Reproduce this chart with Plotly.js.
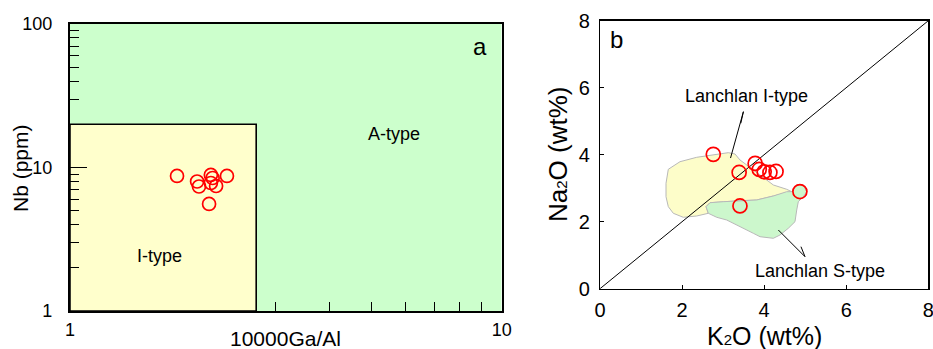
<!DOCTYPE html>
<html>
<head>
<meta charset="utf-8">
<script src="https://cdn.plot.ly/plotly-3.0.1.min.js"></script>
<style>html,body{margin:0;padding:0;background:#fff;}#chart{width:933px;height:349px;}</style>
</head>
<body>
<div id="chart"></div>
<script>
// ---------- Panel a: Nb vs 10000Ga/Al ----------
var gaAl = [1.77, 1.97, 1.99, 2.12, 2.14, 2.12, 2.18, 2.31, 2.10];
var nb   = [8.73, 7.99, 7.37, 8.87, 8.45, 7.80, 7.43, 8.73, 5.57];

// field boundaries (panel a)
var aTypeX = [1, 10, 10, 1, 1];
var aTypeY = [1, 1, 100, 100, 1];
var iTypeX = [1, 2.7, 2.7, 1, 1];
var iTypeY = [1, 1, 20, 20, 1];

var aXTicks = [1, 10];
var aXTickText = ['1', '10'];
var aXMinor = [3, 4, 5, 6, 7, 8, 9];
var aYTicks = [1, 10, 100];
var aYTickText = ['1', '10', '100'];
var aYMinor = [2, 3, 4, 5, 6, 7, 8, 9, 20, 30, 40, 50, 60, 70, 80, 90];

// ---------- Panel b: Na2O vs K2O ----------
var k2o  = [2.76, 3.39, 3.41, 3.78, 3.88, 4.00, 4.14, 4.29, 4.87];
var na2o = [4.01, 3.47, 2.47, 3.74, 3.56, 3.49, 3.47, 3.50, 2.90];

var lanIX = [1.664, 1.949, 2.356, 2.722, 3.126, 3.289, 3.411, 3.575, 3.899, 4.223, 4.549, 4.671,
             4.223, 3.818, 3.411, 3.004, 2.680, 2.583, 2.639, 2.356, 2.030, 1.786, 1.664, 1.608, 1.608, 1.664];
var lanIY = [3.564, 3.791, 3.922, 3.991, 4.060, 4.021, 3.842, 3.693, 3.394, 3.096, 2.967, 2.896,
             2.767, 2.648, 2.627, 2.597, 2.567, 2.448, 2.251, 2.170, 2.131, 2.251, 2.448, 2.746, 3.146, 3.564];
var lanSX = [4.671, 4.793, 4.954, 5.037, 4.954, 4.832, 4.793, 4.751, 4.588, 4.386, 4.223, 3.899, 3.735,
             3.411, 3.087, 2.844, 2.639, 2.583, 2.680, 3.004, 3.411, 3.818, 4.223, 4.549, 4.671];
var lanSY = [2.896, 3.096, 3.096, 2.896, 2.746, 2.597, 2.349, 2.000, 1.803, 1.603, 1.504, 1.552, 1.654,
             1.851, 2.051, 2.131, 2.251, 2.448, 2.567, 2.597, 2.627, 2.648, 2.767, 2.896, 2.896];

var diagX = [0, 8];
var diagY = [0, 8];

// leader lines for the field labels (tail -> tip, then barb)
var leadIX = [3.18, 3.494, 3.43];
var leadIY = [3.90, 5.284, 4.937];
var leadSX = [4.345, 4.995, 4.897];
var leadSY = [1.752, 0.955, 1.254];

var bTicks = [0, 2, 4, 6, 8];

var FONT = 'Liberation Sans, Arial, sans-serif';
var red = '#ff0000';

var traces = [
  {x: aTypeX, y: aTypeY, xaxis: 'x', yaxis: 'y', mode: 'lines', fill: 'toself',
   fillcolor: '#ccffcc', line: {width: 0, color: '#ccffcc'}, hoverinfo: 'skip', showlegend: false},
  {x: iTypeX, y: iTypeY, xaxis: 'x', yaxis: 'y', mode: 'lines', fill: 'toself',
   fillcolor: '#ffffcc', line: {width: 1.6, color: '#000'}, hoverinfo: 'skip', showlegend: false},
  {x: gaAl, y: nb, xaxis: 'x', yaxis: 'y', mode: 'markers', showlegend: false,
   marker: {symbol: 'circle-open', size: 13, color: red, line: {width: 1.7, color: red}}},

  {x: lanIX, y: lanIY, xaxis: 'x2', yaxis: 'y2', mode: 'lines', fill: 'toself',
   fillcolor: '#fdfdc9', line: {width: 1, color: '#b8b8b8'}, hoverinfo: 'skip', showlegend: false},
  {x: lanSX, y: lanSY, xaxis: 'x2', yaxis: 'y2', mode: 'lines', fill: 'toself',
   fillcolor: '#ccf7cc', line: {width: 1, color: '#b8b8b8'}, hoverinfo: 'skip', showlegend: false},
  {x: diagX, y: diagY, xaxis: 'x2', yaxis: 'y2', mode: 'lines',
   line: {width: 1, color: '#000'}, hoverinfo: 'skip', showlegend: false},
  {x: leadIX, y: leadIY, xaxis: 'x2', yaxis: 'y2', mode: 'lines',
   line: {width: 1, color: '#000'}, hoverinfo: 'skip', showlegend: false},
  {x: leadSX, y: leadSY, xaxis: 'x2', yaxis: 'y2', mode: 'lines',
   line: {width: 1, color: '#000'}, hoverinfo: 'skip', showlegend: false},
  {x: k2o, y: na2o, xaxis: 'x2', yaxis: 'y2', mode: 'markers', showlegend: false,
   marker: {symbol: 'circle-open', size: 14, color: red, line: {width: 1.7, color: red}}}
];

var layout = {
  width: 933, height: 349,
  margin: {l: 0, r: 0, t: 0, b: 0},
  paper_bgcolor: '#fff', plot_bgcolor: 'rgba(0,0,0,0)',
  font: {family: FONT, color: '#000'},
  showlegend: false,
  xaxis: {
    type: 'log', range: [0, 1], domain: [0.0750, 0.5377], anchor: 'y',
    tickmode: 'array', tickvals: aXTicks, ticktext: aXTickText,
    ticks: 'inside', ticklen: 17, tickcolor: '#000', tickwidth: 1,
    ticklabelstandoff: 1, ticklabeloverflow: 'allow',
    minor: {tickmode: 'array', tickvals: aXMinor, ticks: 'inside', ticklen: 9, tickcolor: '#000', tickwidth: 1, showgrid: false},
    showgrid: false, zeroline: false, showline: true, mirror: true, linecolor: '#000', linewidth: 2,
    tickfont: {size: 18, family: FONT, color: '#000'}, automargin: false, fixedrange: true
  },
  yaxis: {
    type: 'log', range: [0, 2], domain: [0.1089, 0.9312], anchor: 'x',
    tickmode: 'array', tickvals: aYTicks, ticktext: aYTickText,
    ticks: 'inside', ticklen: 17, tickcolor: '#000', tickwidth: 1,
    ticklabelstandoff: 12, ticklabeloverflow: 'allow',
    minor: {tickmode: 'array', tickvals: aYMinor, ticks: 'inside', ticklen: 9, tickcolor: '#000', tickwidth: 1, showgrid: false},
    showgrid: false, zeroline: false, showline: true, mirror: true, linecolor: '#000', linewidth: 2,
    tickfont: {size: 18, family: FONT, color: '#000'}, automargin: false, fixedrange: true
  },
  xaxis2: {
    range: [0, 8], domain: [0.6431, 0.9950], anchor: 'y2',
    tickmode: 'array', tickvals: bTicks,
    ticks: 'inside', ticklen: 4, tickcolor: '#000', tickwidth: 1,
    ticklabelstandoff: 3, ticklabeloverflow: 'allow',
    showgrid: false, zeroline: false, showline: true, mirror: true, linecolor: '#000', linewidth: 1.2,
    tickfont: {size: 20, family: FONT, color: '#000'}, automargin: false, fixedrange: true
  },
  yaxis2: {
    range: [0, 8], domain: [0.1728, 0.9407], anchor: 'x2',
    tickmode: 'array', tickvals: bTicks,
    ticks: 'inside', ticklen: 4, tickcolor: '#000', tickwidth: 1,
    ticklabelstandoff: 5, ticklabeloverflow: 'allow',
    showgrid: false, zeroline: false, showline: true, mirror: true, linecolor: '#000', linewidth: 1.2,
    tickfont: {size: 20, family: FONT, color: '#000'}, automargin: false, fixedrange: true
  },
  annotations: [
    // axis titles
    {xref: 'paper', yref: 'paper', x: 285.5 / 933, y: 1 - 338 / 349, text: '10000Ga/Al', showarrow: false,
     font: {size: 21, family: FONT, color: '#000'}, xanchor: 'center', yanchor: 'middle'},
    {xref: 'paper', yref: 'paper', x: 21 / 933, y: 1 - 168 / 349, text: 'Nb (ppm)', showarrow: false, textangle: -90,
     font: {size: 21, family: FONT, color: '#000'}, xanchor: 'center', yanchor: 'middle'},
    {xref: 'paper', yref: 'paper', x: 764 / 933, y: 1 - 336 / 349, text: 'K<span style="font-size:15px">2</span>O (wt%)', showarrow: false,
     font: {size: 25, family: FONT, color: '#000'}, xanchor: 'center', yanchor: 'middle'},
    {xref: 'paper', yref: 'paper', x: 558 / 933, y: 1 - 155 / 349, text: 'Na<span style="font-size:15px">2</span>O (wt%)', showarrow: false, textangle: -90,
     font: {size: 26, family: FONT, color: '#000'}, xanchor: 'center', yanchor: 'middle'},
    // panel a labels
    {xref: 'x domain', yref: 'y domain', x: 0.9497, y: 0.9233, text: 'a', showarrow: false,
     font: {size: 24, family: FONT, color: '#000'}, xanchor: 'center', yanchor: 'middle'},
    {xref: 'x domain', yref: 'y domain', x: 0.7505, y: 0.6167, text: 'A-type', showarrow: false,
     font: {size: 18, family: FONT, color: '#000'}, xanchor: 'center', yanchor: 'middle'},
    {xref: 'x domain', yref: 'y domain', x: 0.2085, y: 0.1916, text: 'I-type', showarrow: false,
     font: {size: 18, family: FONT, color: '#000'}, xanchor: 'center', yanchor: 'middle'},
    // panel b labels
    {xref: 'x2', yref: 'y2', x: 0.41, y: 7.45, text: 'b', showarrow: false,
     font: {size: 24, family: FONT, color: '#000'}, xanchor: 'center', yanchor: 'middle'},
    {xref: 'x2', yref: 'y2', x: 3.56, y: 5.75, text: 'Lanchlan I-type', showarrow: false,
     font: {size: 18, family: FONT, color: '#000'}, xanchor: 'center', yanchor: 'middle'},
    {xref: 'x2', yref: 'y2', x: 5.35, y: 0.54, text: 'Lanchlan S-type', showarrow: false,
     font: {size: 18, family: FONT, color: '#000'}, xanchor: 'center', yanchor: 'middle'}
  ]
};

Plotly.newPlot('chart', traces, layout, {displayModeBar: false, staticPlot: true});
</script>
</body>
</html>
